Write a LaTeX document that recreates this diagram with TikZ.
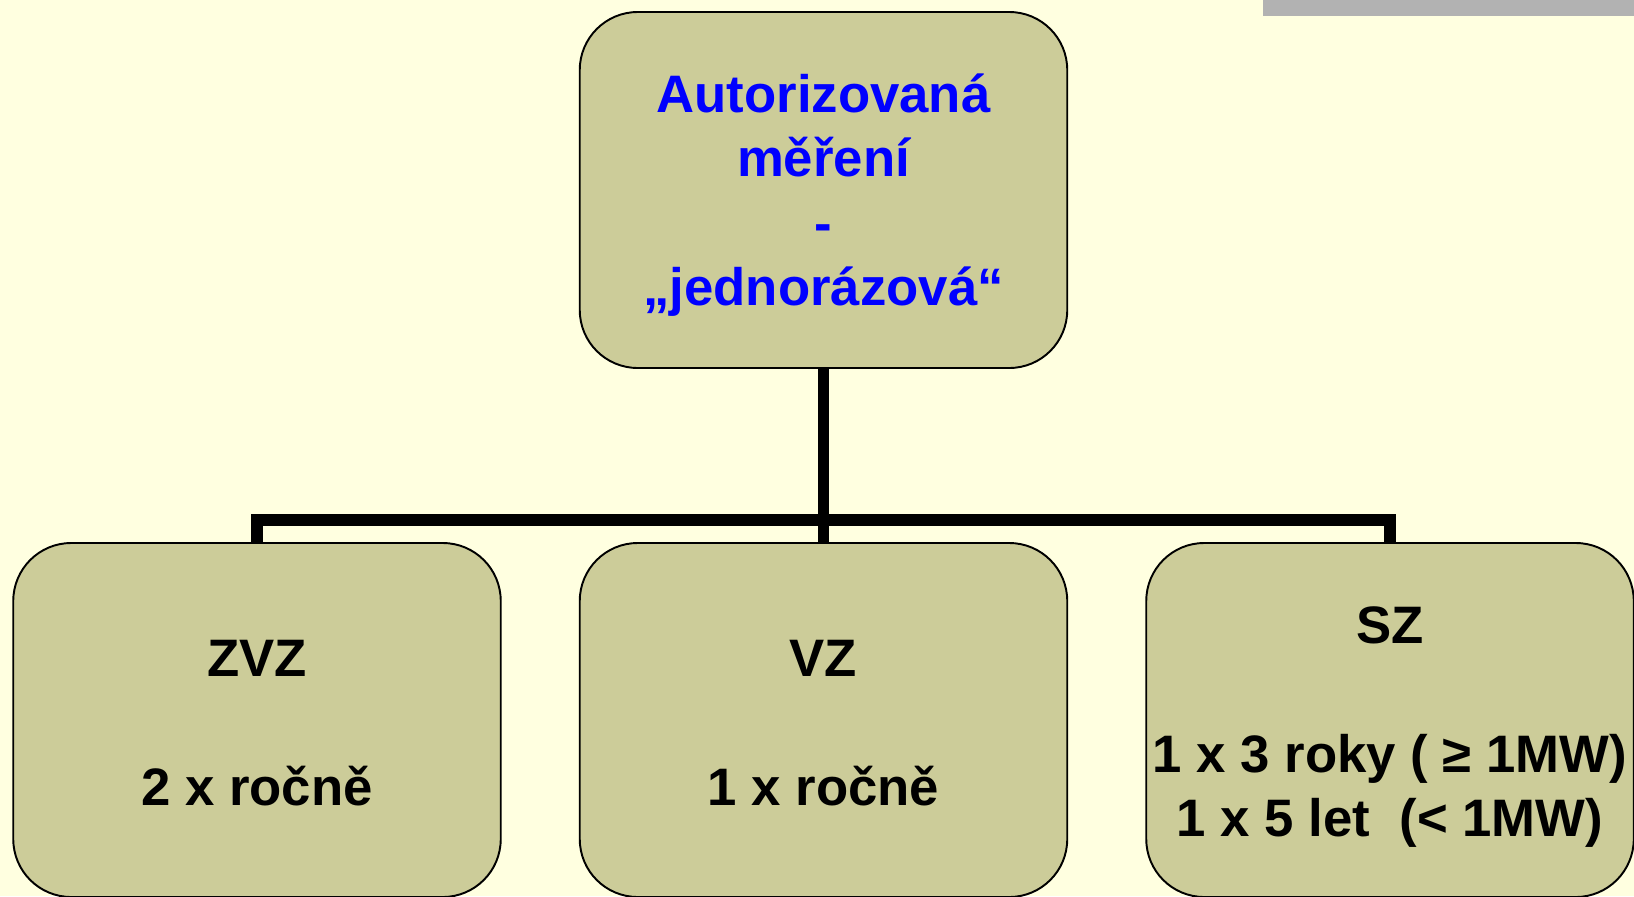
\documentclass[tikz,border=0pt]{standalone}
\usepackage{fontspec}
\setmainfont{Liberation Sans}
\usetikzlibrary{positioning}

\definecolor{slidebg}{HTML}{FFFFE0}
\definecolor{boxfill}{HTML}{CCCC99}
\definecolor{barfill}{HTML}{B2B2B2}
\definecolor{titleblue}{HTML}{0000FF}

% struts that fix where the text sits in a box
\newcommand\boxtop[1]{\rule{0pt}{#1}}
\newcommand\boxfoot{\rule[-0.4cm]{0pt}{0pt}}

\begin{document}
\begin{tikzpicture}[
    box/.style={draw=black, line width=1.1pt, fill=boxfill, rounded corners=1.16cm,
        align=center, inner sep=0pt, minimum width=9.75cm,
        font=\fontsize{30}{36.5}\selectfont\bfseries},
    link/.style={line width=6.4pt}
]

\def\busY{-10.40}
\def\rowY{-14.40}

% background and grey strip
\fill[slidebg] (0,0) rectangle (32.68,-17.92);
\fill[barfill] (25.26,0) rectangle (32.68,-0.32);
\useasboundingbox (0,0) rectangle (32.68,-17.92);

\node[box, minimum height=7.12cm, text=titleblue] (top) at (16.47,-3.80)
    {\boxtop{1.16cm}Autorizovaná\\měření\\-\\„jednorázová“\boxfoot};

\node[box, minimum height=7.08cm] (zvz) at (5.14,\rowY)
    {\boxtop{1.24cm}ZVZ\\[36.5pt]2 x ročně\boxfoot};
\node[box, minimum height=7.08cm] (vz) at (16.47,\rowY)
    {\boxtop{1.24cm}VZ\\[36.5pt]1 x ročně\boxfoot};
\node[box, minimum height=7.08cm] (sz) at (27.80,\rowY)
    {\boxtop{1.20cm}SZ\\[36.5pt]1 x 3 roky ( ≥ 1MW)\\1 x 5 let\ \ (< 1MW)\boxfoot};

\coordinate (hub) at (16.47,\busY);

\draw[link] (top.south) -- (vz.north);
\draw[link] (zvz.north) |- (hub);
\draw[link] (sz.north) |- (hub);

\end{tikzpicture}
\end{document}
